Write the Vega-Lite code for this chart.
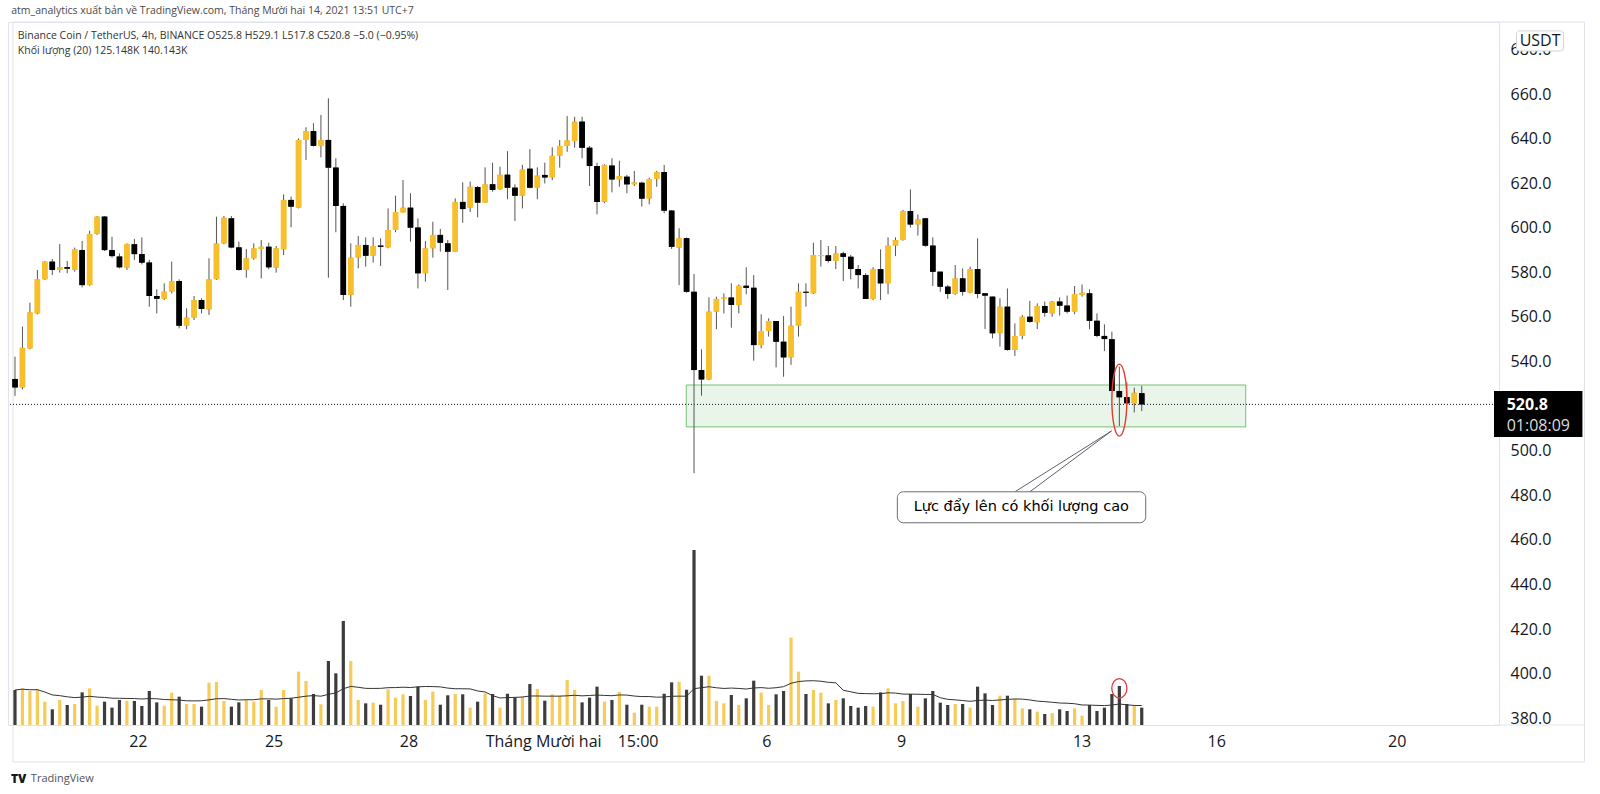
{
"$schema": "https://vega.github.io/schema/vega-lite/v6.json",
"width": 1491, "height": 703,
"autosize": {"type": "none"},
"padding": {"left": 8, "top": 22, "right": 101, "bottom": 69},
"background": "white",
"config": {"view": {"stroke": "#e0e3eb"}, "font": "Open Sans"},
"data": {"name": "candles"},
"datasets": {"candles": [
{"t":"2021-11-19T07:00:00Z","o":532.2,"h":542.2,"l":524.6,"c":528.4,"v":252},
{"t":"2021-11-19T11:00:00Z","o":528.4,"h":555.7,"l":527.5,"c":546.2,"v":264},
{"t":"2021-11-19T15:00:00Z","o":545.9,"h":566.4,"l":545.5,"c":562.1,"v":245},
{"t":"2021-11-19T19:00:00Z","o":561.6,"h":581.1,"l":561.2,"c":576.9,"v":257},
{"t":"2021-11-19T23:00:00Z","o":576.9,"h":585.1,"l":576.6,"c":584.8,"v":168},
{"t":"2021-11-20T03:00:00Z","o":584.8,"h":586.0,"l":578.8,"c":581.1,"v":113},
{"t":"2021-11-20T07:00:00Z","o":581.1,"h":592.7,"l":579.9,"c":582.3,"v":180},
{"t":"2021-11-20T11:00:00Z","o":582.3,"h":585.1,"l":579.6,"c":581.7,"v":144},
{"t":"2021-11-20T15:00:00Z","o":581.1,"h":591.1,"l":580.3,"c":590.3,"v":151},
{"t":"2021-11-20T19:00:00Z","o":590.0,"h":594.1,"l":573.3,"c":574.3,"v":235},
{"t":"2021-11-20T23:00:00Z","o":574.3,"h":598.7,"l":574.0,"c":597.2,"v":264},
{"t":"2021-11-21T03:00:00Z","o":597.2,"h":605.3,"l":596.8,"c":605.0,"v":139},
{"t":"2021-11-21T07:00:00Z","o":605.0,"h":605.3,"l":589.6,"c":590.0,"v":168},
{"t":"2021-11-21T11:00:00Z","o":590.0,"h":596.0,"l":586.6,"c":587.3,"v":125},
{"t":"2021-11-21T15:00:00Z","o":587.1,"h":588.5,"l":581.8,"c":582.3,"v":180},
{"t":"2021-11-21T19:00:00Z","o":582.1,"h":593.0,"l":581.1,"c":592.7,"v":175},
{"t":"2021-11-21T23:00:00Z","o":592.6,"h":595.0,"l":585.6,"c":588.2,"v":173},
{"t":"2021-11-22T03:00:00Z","o":588.2,"h":595.7,"l":583.6,"c":584.4,"v":137},
{"t":"2021-11-22T07:00:00Z","o":584.4,"h":585.6,"l":564.6,"c":569.4,"v":245},
{"t":"2021-11-22T11:00:00Z","o":569.4,"h":572.4,"l":561.6,"c":568.2,"v":163},
{"t":"2021-11-22T15:00:00Z","o":568.2,"h":575.1,"l":567.6,"c":571.4,"v":139},
{"t":"2021-11-22T19:00:00Z","o":571.4,"h":584.8,"l":570.6,"c":576.1,"v":233},
{"t":"2021-11-22T23:00:00Z","o":576.1,"h":576.9,"l":554.9,"c":556.1,"v":204},
{"t":"2021-11-23T03:00:00Z","o":556.1,"h":563.9,"l":554.5,"c":559.7,"v":151},
{"t":"2021-11-23T07:00:00Z","o":559.7,"h":569.4,"l":558.6,"c":567.6,"v":151},
{"t":"2021-11-23T11:00:00Z","o":567.6,"h":568.4,"l":561.6,"c":563.6,"v":132},
{"t":"2021-11-23T15:00:00Z","o":563.4,"h":586.3,"l":560.9,"c":576.9,"v":305},
{"t":"2021-11-23T19:00:00Z","o":576.9,"h":605.0,"l":576.6,"c":593.0,"v":310},
{"t":"2021-11-23T23:00:00Z","o":593.0,"h":605.3,"l":592.6,"c":604.5,"v":173},
{"t":"2021-11-24T03:00:00Z","o":604.2,"h":605.3,"l":590.8,"c":591.2,"v":132},
{"t":"2021-11-24T07:00:00Z","o":591.2,"h":593.8,"l":580.8,"c":581.1,"v":163},
{"t":"2021-11-24T11:00:00Z","o":581.1,"h":590.5,"l":577.6,"c":586.3,"v":180},
{"t":"2021-11-24T15:00:00Z","o":586.3,"h":593.0,"l":585.6,"c":590.8,"v":168},
{"t":"2021-11-24T19:00:00Z","o":590.5,"h":594.5,"l":577.3,"c":591.5,"v":252},
{"t":"2021-11-24T23:00:00Z","o":591.5,"h":593.3,"l":581.4,"c":582.3,"v":180},
{"t":"2021-11-25T03:00:00Z","o":582.1,"h":591.8,"l":579.9,"c":590.8,"v":132},
{"t":"2021-11-25T07:00:00Z","o":590.3,"h":615.0,"l":587.8,"c":612.5,"v":252},
{"t":"2021-11-25T11:00:00Z","o":612.5,"h":614.0,"l":600.2,"c":609.5,"v":192},
{"t":"2021-11-25T15:00:00Z","o":609.0,"h":640.1,"l":608.7,"c":639.4,"v":384},
{"t":"2021-11-25T19:00:00Z","o":639.4,"h":645.1,"l":630.4,"c":643.4,"v":317},
{"t":"2021-11-25T23:00:00Z","o":643.4,"h":646.9,"l":636.4,"c":636.8,"v":223},
{"t":"2021-11-26T03:00:00Z","o":636.8,"h":650.6,"l":631.6,"c":639.4,"v":149},
{"t":"2021-11-26T07:00:00Z","o":639.4,"h":658.1,"l":577.6,"c":627.0,"v":461},
{"t":"2021-11-26T11:00:00Z","o":627.0,"h":631.2,"l":598.0,"c":609.8,"v":372},
{"t":"2021-11-26T15:00:00Z","o":609.8,"h":611.0,"l":567.6,"c":569.9,"v":749},
{"t":"2021-11-26T19:00:00Z","o":569.9,"h":593.0,"l":564.6,"c":586.6,"v":461},
{"t":"2021-11-26T23:00:00Z","o":586.6,"h":596.3,"l":581.8,"c":592.3,"v":180},
{"t":"2021-11-27T03:00:00Z","o":592.3,"h":595.7,"l":582.6,"c":587.5,"v":156},
{"t":"2021-11-27T07:00:00Z","o":587.5,"h":595.7,"l":584.4,"c":591.8,"v":161},
{"t":"2021-11-27T11:00:00Z","o":592.0,"h":595.3,"l":582.9,"c":591.5,"v":146},
{"t":"2021-11-27T15:00:00Z","o":591.2,"h":608.7,"l":590.8,"c":599.0,"v":257},
{"t":"2021-11-27T19:00:00Z","o":599.0,"h":614.4,"l":598.0,"c":607.1,"v":197},
{"t":"2021-11-27T23:00:00Z","o":606.9,"h":621.4,"l":606.8,"c":609.0,"v":221},
{"t":"2021-11-28T03:00:00Z","o":609.0,"h":615.5,"l":593.8,"c":600.1,"v":209},
{"t":"2021-11-28T07:00:00Z","o":600.1,"h":604.2,"l":572.8,"c":579.6,"v":276},
{"t":"2021-11-28T11:00:00Z","o":579.6,"h":594.1,"l":575.8,"c":590.8,"v":180},
{"t":"2021-11-28T15:00:00Z","o":590.8,"h":602.7,"l":586.6,"c":596.8,"v":240},
{"t":"2021-11-28T19:00:00Z","o":596.8,"h":599.5,"l":589.3,"c":593.3,"v":146},
{"t":"2021-11-28T23:00:00Z","o":593.0,"h":594.5,"l":572.1,"c":589.3,"v":214},
{"t":"2021-11-29T03:00:00Z","o":589.3,"h":613.2,"l":589.3,"c":611.6,"v":223},
{"t":"2021-11-29T07:00:00Z","o":611.6,"h":620.4,"l":602.3,"c":608.4,"v":221},
{"t":"2021-11-29T11:00:00Z","o":609.0,"h":620.7,"l":607.1,"c":618.4,"v":125},
{"t":"2021-11-29T15:00:00Z","o":618.3,"h":618.7,"l":604.7,"c":611.3,"v":168},
{"t":"2021-11-29T19:00:00Z","o":611.3,"h":627.1,"l":611.3,"c":619.5,"v":228},
{"t":"2021-11-29T23:00:00Z","o":619.5,"h":629.2,"l":616.2,"c":617.0,"v":223},
{"t":"2021-11-30T03:00:00Z","o":617.3,"h":627.4,"l":617.0,"c":623.8,"v":125},
{"t":"2021-11-30T07:00:00Z","o":623.8,"h":634.4,"l":612.8,"c":618.0,"v":225},
{"t":"2021-11-30T11:00:00Z","o":618.0,"h":619.5,"l":603.0,"c":614.4,"v":197},
{"t":"2021-11-30T15:00:00Z","o":614.4,"h":628.2,"l":608.7,"c":626.2,"v":204},
{"t":"2021-11-30T19:00:00Z","o":626.5,"h":635.3,"l":617.7,"c":618.0,"v":295},
{"t":"2021-11-30T23:00:00Z","o":618.0,"h":627.1,"l":612.8,"c":623.4,"v":259},
{"t":"2021-12-01T03:00:00Z","o":623.7,"h":629.2,"l":619.9,"c":622.6,"v":175},
{"t":"2021-12-01T07:00:00Z","o":622.6,"h":636.1,"l":621.4,"c":632.3,"v":221},
{"t":"2021-12-01T11:00:00Z","o":632.3,"h":639.4,"l":627.0,"c":636.7,"v":211},
{"t":"2021-12-01T15:00:00Z","o":636.7,"h":650.1,"l":634.1,"c":639.2,"v":324},
{"t":"2021-12-01T19:00:00Z","o":638.9,"h":649.8,"l":635.9,"c":647.6,"v":252},
{"t":"2021-12-01T23:00:00Z","o":647.6,"h":649.8,"l":631.2,"c":635.9,"v":163},
{"t":"2021-12-02T03:00:00Z","o":635.9,"h":636.7,"l":618.7,"c":627.7,"v":197},
{"t":"2021-12-02T07:00:00Z","o":627.7,"h":629.2,"l":606.0,"c":611.6,"v":276},
{"t":"2021-12-02T11:00:00Z","o":611.6,"h":628.5,"l":611.0,"c":628.2,"v":168},
{"t":"2021-12-02T15:00:00Z","o":627.9,"h":631.2,"l":615.9,"c":621.7,"v":180},
{"t":"2021-12-02T19:00:00Z","o":621.7,"h":630.1,"l":618.4,"c":623.2,"v":238},
{"t":"2021-12-02T23:00:00Z","o":622.9,"h":623.7,"l":615.5,"c":619.5,"v":146},
{"t":"2021-12-03T03:00:00Z","o":619.5,"h":625.5,"l":618.7,"c":620.4,"v":89},
{"t":"2021-12-03T07:00:00Z","o":620.2,"h":620.7,"l":609.5,"c":613.1,"v":146},
{"t":"2021-12-03T11:00:00Z","o":613.1,"h":622.5,"l":610.5,"c":621.9,"v":132},
{"t":"2021-12-03T15:00:00Z","o":621.9,"h":625.5,"l":618.4,"c":625.0,"v":132},
{"t":"2021-12-03T19:00:00Z","o":625.0,"h":628.2,"l":606.5,"c":607.7,"v":225},
{"t":"2021-12-03T23:00:00Z","o":607.7,"h":608.0,"l":590.5,"c":591.5,"v":307},
{"t":"2021-12-04T03:00:00Z","o":591.1,"h":599.8,"l":574.3,"c":595.3,"v":312},
{"t":"2021-12-04T07:00:00Z","o":595.3,"h":595.7,"l":570.9,"c":571.3,"v":254},
{"t":"2021-12-04T11:00:00Z","o":571.3,"h":579.3,"l":489.9,"c":536.2,"v":1260},
{"t":"2021-12-04T15:00:00Z","o":536.2,"h":545.5,"l":524.7,"c":532.0,"v":355},
{"t":"2021-12-04T19:00:00Z","o":532.0,"h":568.8,"l":531.7,"c":562.4,"v":355},
{"t":"2021-12-04T23:00:00Z","o":562.4,"h":569.1,"l":554.5,"c":568.1,"v":173},
{"t":"2021-12-05T03:00:00Z","o":568.1,"h":570.6,"l":561.6,"c":568.7,"v":156},
{"t":"2021-12-05T07:00:00Z","o":568.7,"h":575.1,"l":555.2,"c":565.4,"v":216},
{"t":"2021-12-05T11:00:00Z","o":565.4,"h":574.6,"l":561.6,"c":574.0,"v":144},
{"t":"2021-12-05T15:00:00Z","o":574.0,"h":582.3,"l":570.2,"c":573.1,"v":192},
{"t":"2021-12-05T19:00:00Z","o":573.1,"h":578.8,"l":540.4,"c":547.4,"v":319},
{"t":"2021-12-05T23:00:00Z","o":547.4,"h":561.2,"l":545.9,"c":553.7,"v":233},
{"t":"2021-12-06T03:00:00Z","o":553.7,"h":559.4,"l":551.2,"c":558.2,"v":144},
{"t":"2021-12-06T07:00:00Z","o":558.2,"h":558.2,"l":537.4,"c":548.9,"v":221},
{"t":"2021-12-06T11:00:00Z","o":548.9,"h":560.4,"l":533.2,"c":541.9,"v":245},
{"t":"2021-12-06T15:00:00Z","o":541.9,"h":564.6,"l":538.5,"c":556.1,"v":629},
{"t":"2021-12-06T19:00:00Z","o":556.1,"h":575.1,"l":551.2,"c":571.3,"v":384},
{"t":"2021-12-06T23:00:00Z","o":571.3,"h":575.1,"l":564.6,"c":570.9,"v":223},
{"t":"2021-12-07T03:00:00Z","o":570.6,"h":593.3,"l":570.3,"c":587.8,"v":252},
{"t":"2021-12-07T07:00:00Z","o":587.3,"h":594.5,"l":582.6,"c":587.8,"v":233},
{"t":"2021-12-07T11:00:00Z","o":587.6,"h":591.8,"l":584.4,"c":585.1,"v":156},
{"t":"2021-12-07T15:00:00Z","o":585.1,"h":591.8,"l":581.5,"c":588.5,"v":180},
{"t":"2021-12-07T19:00:00Z","o":588.5,"h":589.3,"l":576.1,"c":587.0,"v":192},
{"t":"2021-12-07T23:00:00Z","o":587.0,"h":587.8,"l":576.9,"c":581.5,"v":137},
{"t":"2021-12-08T03:00:00Z","o":581.5,"h":583.3,"l":572.8,"c":578.8,"v":125},
{"t":"2021-12-08T07:00:00Z","o":578.8,"h":579.6,"l":568.1,"c":568.1,"v":137},
{"t":"2021-12-08T11:00:00Z","o":568.1,"h":582.3,"l":567.6,"c":581.4,"v":132},
{"t":"2021-12-08T15:00:00Z","o":581.4,"h":590.3,"l":567.6,"c":575.1,"v":235},
{"t":"2021-12-08T19:00:00Z","o":575.1,"h":595.7,"l":570.2,"c":592.0,"v":264},
{"t":"2021-12-08T23:00:00Z","o":592.0,"h":595.7,"l":587.3,"c":594.5,"v":156},
{"t":"2021-12-09T03:00:00Z","o":594.5,"h":608.0,"l":594.2,"c":607.5,"v":173},
{"t":"2021-12-09T07:00:00Z","o":607.5,"h":617.2,"l":600.1,"c":601.5,"v":223},
{"t":"2021-12-09T11:00:00Z","o":601.5,"h":606.0,"l":596.5,"c":603.8,"v":132},
{"t":"2021-12-09T15:00:00Z","o":604.2,"h":604.5,"l":591.5,"c":592.0,"v":192},
{"t":"2021-12-09T19:00:00Z","o":592.0,"h":595.7,"l":573.9,"c":580.3,"v":245},
{"t":"2021-12-09T23:00:00Z","o":580.3,"h":580.3,"l":571.3,"c":573.6,"v":161},
{"t":"2021-12-10T03:00:00Z","o":573.6,"h":574.3,"l":568.1,"c":570.3,"v":144},
{"t":"2021-12-10T07:00:00Z","o":570.3,"h":583.3,"l":569.9,"c":577.3,"v":151},
{"t":"2021-12-10T11:00:00Z","o":577.3,"h":581.8,"l":569.6,"c":571.3,"v":151},
{"t":"2021-12-10T15:00:00Z","o":571.0,"h":582.6,"l":570.6,"c":581.5,"v":125},
{"t":"2021-12-10T19:00:00Z","o":581.5,"h":595.3,"l":568.4,"c":570.3,"v":276},
{"t":"2021-12-10T23:00:00Z","o":570.6,"h":570.6,"l":554.6,"c":569.6,"v":228},
{"t":"2021-12-11T03:00:00Z","o":569.1,"h":569.1,"l":550.4,"c":552.7,"v":144},
{"t":"2021-12-11T07:00:00Z","o":552.7,"h":568.4,"l":546.7,"c":564.6,"v":211},
{"t":"2021-12-11T11:00:00Z","o":564.6,"h":572.8,"l":544.9,"c":545.2,"v":211},
{"t":"2021-12-11T15:00:00Z","o":545.2,"h":557.1,"l":542.5,"c":551.5,"v":187},
{"t":"2021-12-11T19:00:00Z","o":551.5,"h":560.9,"l":550.0,"c":560.1,"v":120},
{"t":"2021-12-11T23:00:00Z","o":560.1,"h":567.2,"l":557.4,"c":557.9,"v":113},
{"t":"2021-12-12T03:00:00Z","o":557.6,"h":566.1,"l":554.6,"c":564.9,"v":96},
{"t":"2021-12-12T07:00:00Z","o":564.9,"h":566.9,"l":560.1,"c":561.9,"v":79},
{"t":"2021-12-12T11:00:00Z","o":561.6,"h":567.2,"l":560.1,"c":566.9,"v":86},
{"t":"2021-12-12T15:00:00Z","o":566.9,"h":568.8,"l":560.6,"c":565.1,"v":113},
{"t":"2021-12-12T19:00:00Z","o":565.1,"h":569.6,"l":561.6,"c":562.4,"v":101},
{"t":"2021-12-12T23:00:00Z","o":562.4,"h":573.9,"l":561.2,"c":570.3,"v":120},
{"t":"2021-12-13T03:00:00Z","o":569.9,"h":574.6,"l":569.1,"c":570.9,"v":67},
{"t":"2021-12-13T07:00:00Z","o":570.6,"h":572.4,"l":554.5,"c":558.3,"v":144},
{"t":"2021-12-13T11:00:00Z","o":558.3,"h":561.6,"l":550.9,"c":551.5,"v":101},
{"t":"2021-12-13T15:00:00Z","o":551.5,"h":556.7,"l":544.7,"c":550.1,"v":125},
{"t":"2021-12-13T19:00:00Z","o":550.0,"h":553.4,"l":526.8,"c":526.8,"v":223},
{"t":"2021-12-13T23:00:00Z","o":526.8,"h":537.7,"l":511.1,"c":524.0,"v":281},
{"t":"2021-12-14T03:00:00Z","o":524.0,"h":530.7,"l":520.5,"c":521.3,"v":151},
{"t":"2021-12-14T07:00:00Z","o":521.3,"h":528.3,"l":517.2,"c":526.0,"v":144},
{"t":"2021-12-14T11:00:00Z","o":525.8,"h":529.1,"l":517.8,"c":520.8,"v":125.1}
]},
"layer": [
 {"mark": {"type": "bar", "width": 5.5, "clip": true},
  "encoding": {
   "x": {"field": "t", "type": "temporal",
         "scale": {"type":"utc","domain":[{"year":2021,"month":"nov","date":19,"hours":5,"minutes":56,"utc":true},{"year":2021,"month":"dec","date":22,"hours":7,"minutes":50,"utc":true}]},
         "axis": {"title": null, "ticks": false, "domain": false, "grid": false, "labelFont": "Open Sans", "labelFontSize": 16, "labelColor": "#131722", "labelPadding": 8, "labelOverlap": false,
                  "values": [1637542200000, 1637804280000, 1638064560000, 1638324480000, 1638506640000, 1638755040000, 1639014960000, 1639363440000, 1639623360000, 1639971480000],
                  "labelExpr": "utcdate(datum.value) == 3 ? '15:00' : (utcdate(datum.value) == 1 ? 'Tháng Mười hai' : '' + utcdate(datum.value))"}},
   "y": {"field": "o", "type": "quantitative", "scale": {"domain":[377,692.3],"nice":false,"zero":false},
         "axis": {"orient": "right", "title": null, "ticks": false, "domain": false, "grid": false, "labelFont": "Open Sans", "labelFontSize": 16, "labelColor": "#131722", "labelPadding": 11, "format": ".1f",
                  "values": [380,400,420,440,460,480,500,540,560,580,600,620,640,660,680]}},
   "y2": {"field": "c"},
   "color": {"condition": {"test": "datum.c >= datum.o", "value": "#f8bf2d"}, "value": "#000000"}
  }},
 {"data": {"values": [{}]},
  "mark": {"type": "rect", "fillOpacity": 0, "stroke": "#e0e3eb", "strokeWidth": 1},
  "encoding": {
   "x": {"datum": {"year":2021,"month":"nov","date":19,"hours":5,"minutes":56,"utc":true}, "type": "temporal"},
   "x2": {"datum": {"year":2021,"month":"dec","date":24,"hours":8,"minutes":20,"utc":true}},
   "y": {"datum": 692.3, "type": "quantitative", "axis": null, "scale": {"domain":[377,692.3],"nice":false,"zero":false}},
   "y2": {"datum": 360.4}
  }},
 {"data": {"values": [{}]},
  "mark": {"type": "rule", "color": "#e0e3eb", "strokeWidth": 1},
  "encoding": {
   "x": {"datum": {"year":2021,"month":"dec","date":22,"hours":7,"minutes":50,"utc":true}, "type": "temporal"},
   "x2": {"datum": {"year":2021,"month":"dec","date":24,"hours":8,"minutes":20,"utc":true}},
   "y": {"datum": 377, "type": "quantitative", "axis": null, "scale": {"domain":[377,692.3],"nice":false,"zero":false}}
  }},
 {"data": {"values": [{}]},
  "mark": {"type": "rect", "fill": "#4caf50", "fillOpacity": 0.13, "stroke": "#4caf50", "strokeOpacity": 0.75, "strokeWidth": 1},
  "encoding": {
   "x": {"datum": {"year":2021,"month":"dec","date":4,"hours":6,"minutes":50,"utc":true}, "type": "temporal"},
   "x2": {"datum": {"year":2021,"month":"dec","date":16,"hours":18,"minutes":44,"utc":true}},
   "y": {"datum": 529.5, "type": "quantitative", "axis": null, "scale": {"domain":[377,692.3],"nice":false,"zero":false}},
   "y2": {"datum": 510.7}
  }},
 {"data": {"values": [{}]},
  "mark": {"type": "rule", "color": "#131722", "strokeWidth": 1, "strokeDash": [1, 2]},
  "encoding": {
   "y": {"datum": 520.8, "type": "quantitative", "axis": null, "scale": {"domain":[377,692.3],"nice":false,"zero":false}}
  }},
 {"mark": {"type": "bar", "width": 3.2, "clip": true},
  "encoding": {
   "x": {"field": "t", "type": "temporal"},
   "y": {"field": "v", "type": "quantitative", "axis": null, "stack": null, "scale": {"domain":[0,5061],"nice":false}},
   "color": {"condition": {"test": "datum.c >= datum.o", "value": "#f7cb5a"}, "value": "#3c3c3c"}
  }},
 {"transform": [{"window": [{"op": "mean", "field": "v", "as": "ma"}], "frame": [-19, 0], "sort": [{"field": "t"}]}],
  "mark": {"type": "line", "color": "#333333", "strokeWidth": 1, "clip": true},
  "encoding": {
   "x": {"field": "t", "type": "temporal"},
   "y": {"field": "ma", "type": "quantitative", "axis": null, "scale": {"domain":[0,5061],"nice":false}}
  }},
 {"data": {"values": [{}]},
  "mark": {"type": "point", "shape": "M0,-1A0.78,1,0,1,1,0,1A0.78,1,0,1,1,0,-1Z", "size": 376, "filled": false, "stroke": "#e53935", "strokeWidth": 1.3, "opacity": 1},
  "encoding": {
   "x": {"datum": {"year":2021,"month":"dec","date":13,"hours":23,"utc":true}, "type": "temporal"},
   "y": {"datum": 264, "type": "quantitative", "axis": null, "scale": {"domain":[0,5061],"nice":false}}
  }},
 {"mark": {"type": "rule", "color": "#555555", "strokeWidth": 1, "clip": true},
  "encoding": {
   "x": {"field": "t", "type": "temporal"},
   "y": {"field": "l", "type": "quantitative", "axis": null, "scale": {"domain":[377,692.3],"nice":false,"zero":false}},
   "y2": {"field": "h"}
  }},
 {"mark": {"type": "bar", "width": 5.5, "clip": true},
  "encoding": {
   "x": {"field": "t", "type": "temporal"},
   "y": {"field": "o", "type": "quantitative", "axis": null, "scale": {"domain":[377,692.3],"nice":false,"zero":false}},
   "y2": {"field": "c"},
   "color": {"condition": {"test": "datum.c >= datum.o", "value": "#f8bf2d"}, "value": "#000000"}
  }},
 {"data": {"values": [{}]},
  "mark": {"type": "point", "shape": "M0,-1A0.208,1,0,1,1,0,1A0.208,1,0,1,1,0,-1Z", "size": 5184, "filled": false, "stroke": "#e53935", "strokeWidth": 1.4, "opacity": 1},
  "encoding": {
   "x": {"datum": {"year":2021,"month":"dec","date":13,"hours":23,"utc":true}, "type": "temporal"},
   "y": {"datum": 522.7, "type": "quantitative", "axis": null, "scale": {"domain":[377,692.3],"nice":false,"zero":false}}
  }},
 {"data": {"values": [{}]},
  "mark": {"type": "rule", "color": "#5d606b", "strokeWidth": 1},
  "encoding": {
   "x": {"datum": {"year":2021,"month":"dec","date":11,"hours":15,"minutes":2,"utc":true}, "type": "temporal"},
   "x2": {"datum": {"year":2021,"month":"dec","date":13,"hours":18,"minutes":50,"utc":true}},
   "y": {"datum": 481.6, "type": "quantitative", "axis": null, "scale": {"domain":[377,692.3],"nice":false,"zero":false}},
   "y2": {"datum": 508.9}
  }},
 {"data": {"values": [{}]},
  "mark": {"type": "rule", "color": "#5d606b", "strokeWidth": 1},
  "encoding": {
   "x": {"datum": {"year":2021,"month":"dec","date":11,"hours":23,"minutes":2,"utc":true}, "type": "temporal"},
   "x2": {"datum": {"year":2021,"month":"dec","date":13,"hours":18,"minutes":50,"utc":true}},
   "y": {"datum": 481.6, "type": "quantitative", "axis": null, "scale": {"domain":[377,692.3],"nice":false,"zero":false}},
   "y2": {"datum": 508.9}
  }},
 {"data": {"values": [{}]},
  "mark": {"type": "rect", "fill": "#ffffff", "stroke": "#6a6d78", "strokeWidth": 1, "cornerRadius": 6},
  "encoding": {
   "x": {"datum": {"year":2021,"month":"dec","date":9,"hours":0,"utc":true}, "type": "temporal"},
   "x2": {"datum": {"year":2021,"month":"dec","date":14,"hours":13,"minutes":8,"utc":true}},
   "y": {"datum": 481.6, "type": "quantitative", "axis": null, "scale": {"domain":[377,692.3],"nice":false,"zero":false}},
   "y2": {"datum": 467.7}
  }},
 {"data": {"values": [{}]},
  "mark": {"type": "text", "text": "Lực đẩy lên có khối lượng cao", "font": "DejaVu Sans", "fontSize": 14.5, "color": "#000000", "align": "center", "baseline": "middle"},
  "encoding": {
   "x": {"datum": {"year":2021,"month":"dec","date":11,"hours":18,"minutes":26,"utc":true}, "type": "temporal"},
   "y": {"datum": 474.8, "type": "quantitative", "axis": null, "scale": {"domain":[377,692.3],"nice":false,"zero":false}}
  }},
 {"data": {"values": [{}]},
  "mark": {"type": "rect", "fill": "#000000"},
  "encoding": {
   "x": {"datum": {"year":2021,"month":"dec","date":22,"hours":7,"minutes":50,"utc":true}, "type": "temporal"},
   "x2": {"datum": {"year":2021,"month":"dec","date":24,"hours":7,"minutes":14,"utc":true}},
   "y": {"datum": 526.8, "type": "quantitative", "axis": null, "scale": {"domain":[377,692.3],"nice":false,"zero":false}},
   "y2": {"datum": 506.2}
  }},
 {"data": {"values": [{}]},
  "mark": {"type": "text", "text": "520.8", "font": "Open Sans", "fontSize": 16, "fontWeight": "bold", "color": "#ffffff", "align": "left", "baseline": "middle"},
  "encoding": {
   "x": {"datum": {"year":2021,"month":"dec","date":22,"hours":14,"minutes":38,"utc":true}, "type": "temporal"},
   "y": {"datum": 520.5, "type": "quantitative", "axis": null, "scale": {"domain":[377,692.3],"nice":false,"zero":false}}
  }},
 {"data": {"values": [{}]},
  "mark": {"type": "text", "text": "01:08:09", "font": "Open Sans", "fontSize": 16, "color": "#dcdcdc", "align": "left", "baseline": "middle"},
  "encoding": {
   "x": {"datum": {"year":2021,"month":"dec","date":22,"hours":14,"minutes":38,"utc":true}, "type": "temporal"},
   "y": {"datum": 511.2, "type": "quantitative", "axis": null, "scale": {"domain":[377,692.3],"nice":false,"zero":false}}
  }},
 {"data": {"values": [{}]},
  "mark": {"type": "rect", "fill": "#ffffff", "stroke": "#d1d4dc", "strokeWidth": 1, "cornerRadius": 3},
  "encoding": {
   "x": {"datum": {"year":2021,"month":"dec","date":22,"hours":19,"minutes":56,"utc":true}, "type": "temporal"},
   "x2": {"datum": {"year":2021,"month":"dec","date":23,"hours":21,"minutes":8,"utc":true}},
   "y": {"datum": 688.3, "type": "quantitative", "axis": null, "scale": {"domain":[377,692.3],"nice":false,"zero":false}},
   "y2": {"datum": 679.3}
  }},
 {"data": {"values": [{}]},
  "mark": {"type": "text", "text": "USDT", "font": "Open Sans", "fontSize": 16, "color": "#131722", "align": "center", "baseline": "middle"},
  "encoding": {
   "x": {"datum": {"year":2021,"month":"dec","date":23,"hours":8,"minutes":32,"utc":true}, "type": "temporal"},
   "y": {"datum": 683.8, "type": "quantitative", "axis": null, "scale": {"domain":[377,692.3],"nice":false,"zero":false}}
  }},
 {"data": {"values": [{}]},
  "mark": {"type": "text", "text": "atm_analytics xuất bản về TradingView.com, Tháng Mười hai 14, 2021 13:51 UTC+7", "font": "Open Sans", "fontSize": 10.5, "color": "#4a4a4a", "align": "left", "baseline": "middle"},
  "encoding": {
   "x": {"datum": {"year":2021,"month":"nov","date":19,"hours":5,"minutes":0,"utc":true}, "type": "temporal"},
   "y": {"datum": 697.3, "type": "quantitative", "axis": null, "scale": {"domain":[377,692.3],"nice":false,"zero":false}}
  }},
 {"data": {"values": [{}]},
  "mark": {"type": "text", "text": "Binance Coin / TetherUS, 4h, BINANCE  O525.8  H529.1  L517.8  C520.8  −5.0 (−0.95%)", "font": "Open Sans", "fontSize": 10.5, "color": "#333333", "align": "left", "baseline": "middle"},
  "encoding": {
   "x": {"datum": {"year":2021,"month":"nov","date":19,"hours":8,"minutes":30,"utc":true}, "type": "temporal"},
   "y": {"datum": 686.0, "type": "quantitative", "axis": null, "scale": {"domain":[377,692.3],"nice":false,"zero":false}}
  }},
 {"data": {"values": [{}]},
  "mark": {"type": "text", "text": "Khối lượng (20)  125.148K  140.143K", "font": "Open Sans", "fontSize": 10.5, "color": "#333333", "align": "left", "baseline": "middle"},
  "encoding": {
   "x": {"datum": {"year":2021,"month":"nov","date":19,"hours":8,"minutes":30,"utc":true}, "type": "temporal"},
   "y": {"datum": 679.2, "type": "quantitative", "axis": null, "scale": {"domain":[377,692.3],"nice":false,"zero":false}}
  }},
 {"data": {"values": [{}]},
  "mark": {"type": "text", "text": "TV", "font": "Open Sans", "fontSize": 12, "fontWeight": 900, "color": "#131722", "align": "left", "baseline": "middle"},
  "encoding": {
   "x": {"datum": {"year":2021,"month":"nov","date":19,"hours":4,"minutes":50,"utc":true}, "type": "temporal"},
   "y": {"datum": 352.8, "type": "quantitative", "axis": null, "scale": {"domain":[377,692.3],"nice":false,"zero":false}}
  }},
 {"data": {"values": [{}]},
  "mark": {"type": "text", "text": "TradingView", "font": "Open Sans", "fontSize": 11, "color": "#50535e", "align": "left", "baseline": "middle"},
  "encoding": {
   "x": {"datum": {"year":2021,"month":"nov","date":19,"hours":15,"minutes":30,"utc":true}, "type": "temporal"},
   "y": {"datum": 352.8, "type": "quantitative", "axis": null, "scale": {"domain":[377,692.3],"nice":false,"zero":false}}
  }}
],
"resolve": {"scale": {"y": "independent"}}
}
